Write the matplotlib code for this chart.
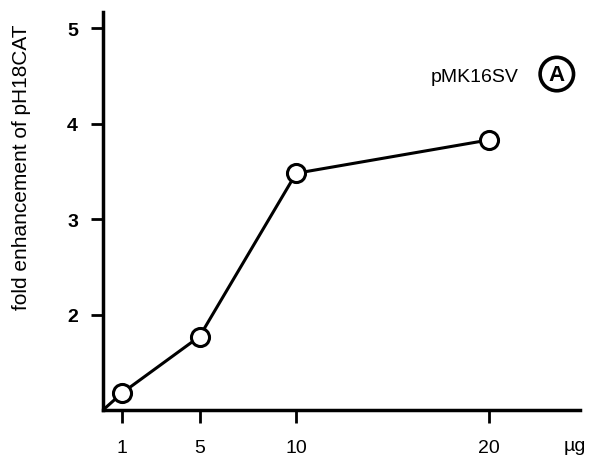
import matplotlib.pyplot as plt

plt.rcParams["font.family"] = ["Liberation Sans", "DejaVu Sans"]

# dose of pMK16SV (ug) and fold enhancement of pH18CAT
dose_ug = [1, 5, 10, 20]
fold_enhancement = [1.18, 1.77, 3.48, 3.83]
x_ticks = [1, 5, 10, 20]
y_ticks = [2, 3, 4, 5]

W, H = 591, 464
fig = plt.figure(figsize=(W / 100, H / 100), dpi=100)
ax = fig.add_axes([103 / W, 1 - 411 / H, (580 - 103) / W, (411 - 13) / H])

ax.plot(dose_ug, fold_enhancement, color="black", linewidth=2.2,
        marker="o", markersize=13, markerfacecolor="white",
        markeredgecolor="black", markeredgewidth=2.2, clip_on=False, zorder=3)
# line starts from the origin corner
ax.plot([0, dose_ug[0]], [1, fold_enhancement[0]], color="black",
        linewidth=2.2, zorder=2)

ax.set_xlim(0, 24.7)
ax.set_ylim(1, 5.17)
ax.set_xticks(x_ticks)
ax.set_yticks(y_ticks)
ax.set_xticklabels([str(v) for v in x_ticks], fontsize=14)
ax.set_yticklabels([str(v) for v in y_ticks], fontsize=14, fontweight="bold")

for side in ["top", "right"]:
    ax.spines[side].set_visible(False)
for side in ["left", "bottom"]:
    ax.spines[side].set_linewidth(2.5)

ax.tick_params(axis="both", direction="out", length=9, width=2)
ax.tick_params(axis="x", pad=12)
ax.tick_params(axis="y", pad=9)

fig.text(575 / W, 1 - 447 / H, "µg", fontsize=14, ha="center", va="center")

fig.text(22 / W, 1 - 167 / H, "fold enhancement of pH18CAT", rotation=90,
         ha="center", va="center", fontsize=15)

ax.text(21.5, 4.49, "pMK16SV", fontsize=14, ha="right", va="center")
ax.text(23.5, 4.52, "A", fontsize=16, fontweight="bold", ha="center",
        va="center",
        bbox=dict(boxstyle="circle,pad=0.28", facecolor="white",
                  edgecolor="black", linewidth=2.6))

fig.savefig("out.png", dpi=100)
